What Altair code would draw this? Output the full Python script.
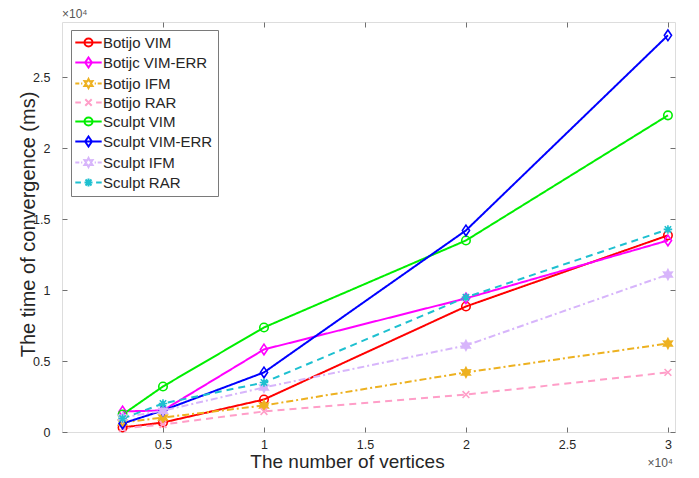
import math
import altair as alt
import pandas as pd

# ---------------- data ----------------
x_vals = [3000, 5000, 10000, 20000, 30000]
series_names = ["Botijo VIM", "Botijc VIM-ERR", "Botijo IFM", "Botijo RAR",
                "Sculpt VIM", "Sculpt VIM-ERR", "Sculpt IFM", "Sculpt RAR"]
botijo_vim = [320, 670, 2290, 8850, 13860]
botijo_vim_err = [1450, 1520, 5820, 9420, 13500]
botijo_ifm = [670, 1020, 1870, 4200, 6240]
botijo_rar = [250, 530, 1450, 2640, 4200]
sculpt_vim = [1230, 3210, 7370, 13500, 22320]
sculpt_vim_err = [600, 1520, 4200, 14210, 27960]
sculpt_ifm = [1020, 1500, 3140, 6100, 11100]
sculpt_rar = [950, 2010, 3490, 9490, 14280]
all_series = [botijo_vim, botijo_vim_err, botijo_ifm, botijo_rar,
              sculpt_vim, sculpt_vim_err, sculpt_ifm, sculpt_rar]

x_ticks = [5000, 10000, 15000, 20000, 25000, 30000]
y_ticks = [0, 5000, 10000, 15000, 20000, 25000]
x_title = "The number of vertices"
y_title = "The time of convergence (ms)"
exponent_label = "×10⁴"

# ---------------- styles ----------------
colors = ["#ff0000", "#ff00ff", "#edb120", "#ff9ec8",
          "#00ee00", "#0000ff", "#d7b5fb", "#1ec0d0"]
SOLID, DASHDOT, DASHED = [1, 0], [7, 3, 2, 3], [7, 5]
dashes = [SOLID, SOLID, DASHDOT, DASHED, SOLID, SOLID, DASHDOT, DASHED]

CIRCLE = "M1,0A1,1,0,1,1,-1,0A1,1,0,1,1,1,0"
DIAMOND = "M0,-1.25L0.85,0L0,1.25L-0.85,0Z"
XMARK = "M-0.8,-0.8L0.8,0.8M-0.8,0.8L0.8,-0.8"
ASTER = "M-1,0L1,0M0,-1L0,1M-0.75,-0.75L0.75,0.75M-0.75,0.75L0.75,-0.75"


def hexagram(ro=1.15, ri=0.62):
    pts = []
    for k in range(12):
        ang = math.radians(-90 + 30 * k)
        r = ro if k % 2 == 0 else ri
        pts.append(f"{r * math.cos(ang):.3f},{r * math.sin(ang):.3f}")
    return "M" + "L".join(pts) + "Z"


HEX = hexagram()
markers = [CIRCLE, DIAMOND, HEX, XMARK, CIRCLE, DIAMOND, HEX, ASTER]
fills = ["transparent", "transparent", "#edb120", "transparent",
         "transparent", "transparent", "#d7b5fb", "transparent"]

# legend symbols: line segment + marker
L_SOLID = "M-3.3,0L3.3,0"
L_DASHED = "M-3.3,0L-1.9,0M1.9,0L3.3,0"
L_DASHDOT = "M-3.3,0L-2.3,0M-1.85,0L-1.55,0M1.55,0L1.85,0M2.3,0L3.3,0"
line_paths = [L_SOLID, L_SOLID, L_DASHDOT, L_DASHED, L_SOLID, L_SOLID, L_DASHDOT, L_DASHED]
legend_shapes = [lp + m for lp, m in zip(line_paths, markers)]

rows = []
for name, vals in zip(series_names, all_series):
    for xv, yv in zip(x_vals, vals):
        rows.append({"series": name, "x": xv, "y": yv})
df = pd.DataFrame(rows)

W, H = 613, 410
XD, YD = [0, 30350], [0, 28900]
FONT = "Liberation Sans"
TXT = "#262626"
AX = "#707070"

xs = alt.Scale(domain=XD, nice=False, zero=False)
ys = alt.Scale(domain=YD, nice=False, zero=False)
cscale = alt.Scale(domain=series_names, range=colors)

lines = alt.Chart(df).mark_line(strokeWidth=2).encode(
    x=alt.X("x:Q", scale=xs, axis=alt.Axis(
        orient="bottom", values=x_ticks, labelExpr="datum.value/10000",
        tickSize=0, domain=False, grid=False, labelPadding=6,
        labelFontSize=12.5, labelColor=TXT, labelFont=FONT,
        title=x_title, titleFont=FONT, titleFontSize=19, titleFontWeight="normal",
        titleColor=TXT, titleX=285, titleY=35, titleAlign="center",
        titleBaseline="alphabetic")),
    y=alt.Y("y:Q", scale=ys, axis=alt.Axis(
        orient="left", values=y_ticks, labelExpr="datum.value/10000",
        tickSize=0, domain=False, grid=False, labelPadding=12,
        labelFontSize=12.5, labelColor=TXT, labelFont=FONT,
        title=y_title, titleFont=FONT, titleFontSize=20, titleFontWeight="normal",
        titleColor=TXT, titleX=-28, titleY=202, titleAngle=-90, titleAlign="center",
        titleBaseline="alphabetic")),
    color=alt.Color("series:N", scale=cscale, legend=None),
    strokeDash=alt.StrokeDash("series:N", scale=alt.Scale(domain=series_names, range=dashes), legend=None),
    detail="series:N",
    order="x:Q",
)

points = alt.Chart(df).mark_point(filled=False, strokeWidth=1.6, size=72, opacity=1).encode(
    x=alt.X("x:Q", scale=xs, axis=None),
    y=alt.Y("y:Q", scale=ys, axis=None),
    color=alt.Color("series:N", scale=cscale, legend=None),
    fill=alt.Fill("series:N", scale=alt.Scale(domain=series_names, range=fills), legend=None),
    shape=alt.Shape("series:N", scale=alt.Scale(domain=series_names, range=markers), legend=None),
)


def tick_layer(xorient, yorient):
    return alt.Chart(df).mark_point(opacity=0).encode(
        x=alt.X("x:Q", scale=xs, axis=alt.Axis(
            orient=xorient, offset=-H, values=x_ticks, labels=False, domain=False,
            grid=False, tickSize=5, tickColor=AX, title=None)),
        y=alt.Y("y:Q", scale=ys, axis=alt.Axis(
            orient=yorient, offset=-W, values=y_ticks, labels=False, domain=False,
            grid=False, tickSize=5, tickColor=AX, title=None)),
    )


ticks_a = tick_layer("top", "right")
ticks_b = tick_layer("bottom", "left")

leg = alt.Legend(orient="none", legendX=9, legendY=8, title=None,
                 fillColor="white", strokeColor="#7a7a7a", padding=5,
                 labelFont=FONT, labelFontSize=15, labelColor=TXT,
                 symbolSize=64, symbolStrokeWidth=2, symbolOffset=5,
                 labelOffset=7, rowPadding=2)

legend_layer = alt.Chart(df).transform_filter("false").mark_point(
    filled=False, strokeWidth=2, opacity=1).encode(
    color=alt.Color("series:N", scale=cscale, legend=leg, sort=series_names),
    shape=alt.Shape("series:N", scale=alt.Scale(domain=series_names, range=legend_shapes),
                    legend=leg, sort=series_names),
)

exp_df = pd.DataFrame({"t": [exponent_label]})
exp_top = alt.Chart(exp_df).mark_text(
    align="left", baseline="alphabetic", font=FONT, fontSize=12, color="#555").encode(
    text="t:N", x=alt.value(0), y=alt.value(-4))
exp_bottom = alt.Chart(exp_df).mark_text(
    align="right", baseline="alphabetic", font=FONT, fontSize=12, color="#555").encode(
    text="t:N", x=alt.value(W - 2), y=alt.value(H + 35))

chart = alt.layer(lines, points, ticks_a, ticks_b, legend_layer, exp_top, exp_bottom).resolve_scale(
    x="independent", y="independent", color="independent", shape="independent",
    strokeDash="independent", fill="independent"
).properties(
    width=W, height=H,
    autosize=alt.AutoSizeParams(type="none"),
    padding={"left": 54, "top": 14, "right": 16, "bottom": 38},
).configure_view(stroke=AX, strokeWidth=1.2).configure(background="white")

chart.save("out.html", embed_options={"renderer": "svg", "actions": False})
